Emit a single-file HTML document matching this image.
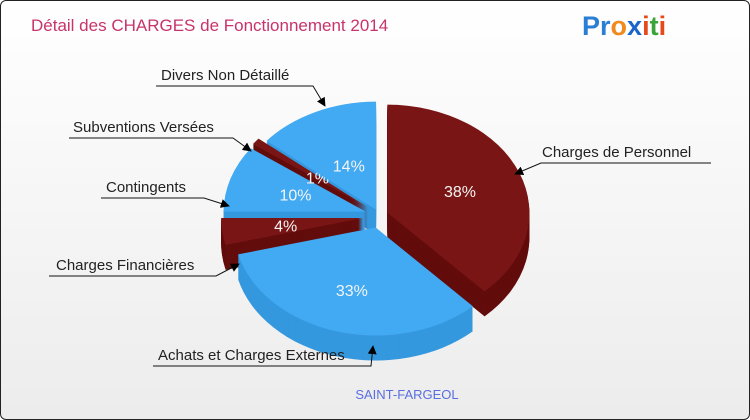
<!DOCTYPE html>
<html><head><meta charset="utf-8"><style>
html,body{margin:0;padding:0;}
body{width:750px;height:420px;overflow:hidden;font-family:"Liberation Sans",sans-serif;}
#card{position:absolute;left:0;top:0;width:748px;height:418px;border:1px solid #222;border-radius:6px;background:linear-gradient(#ffffff,#ececec);overflow:hidden;}
</style></head><body>
<div id="card">
<svg id="chart" width="748" height="418" xmlns="http://www.w3.org/2000/svg">
<defs><marker id="arr" viewBox="0 0 10 10" refX="9" refY="5" markerWidth="9" markerHeight="9" orient="auto-start-reverse"><path d="M0,0 L10,5 L0,10 z" fill="#000"/></marker></defs>
<text x="30" y="30" font-size="17" fill="#c8336b">Détail des CHARGES de Fonctionnement 2014</text>
<g font-size="27" font-weight="bold" font-family="'Liberation Sans',sans-serif">
<text x="581" y="34"><tspan fill="#2a7fd4">Pr</tspan><tspan fill="#f08a1c">o</tspan><tspan fill="#1a66c8">x</tspan><tspan fill="#e64a1a">i</tspan><tspan fill="#3aa43a">t</tspan><tspan fill="#e64a1a">i</tspan></text>
</g>
<g id="sides"></g><g id="tops"></g><g id="labels"></g>
<text x="406" y="398" font-size="13" fill="#5a6ee0" text-anchor="middle">SAINT-FARGEOL</text>
</svg></div>
<script>
const categories=["Charges de Personnel","Achats et Charges Externes","Charges Financières","Contingents","Subventions Versées","Divers Non Détaillé"];
const values=[38,33,4,10,1,14];
const pctLabels=["38%","33%","4%","10%","1%","14%"];
const NS="http://www.w3.org/2000/svg";
const cx=378,cy=215,rx=142,ry=108,depth=25;
const startA=-90*Math.PI/180;
const explode=[9,12,16,14,14,7];
const topCol=["#7a1515","#42aaf2","#7a1515","#42aaf2","#7a1515","#42aaf2"];
const sideCol=["#630c0c","#3598de","#630c0c","#3598de","#630c0c","#3598de"];
const total=values.reduce((a,b)=>a+b,0);
function pt(c,a,dy){return [c[0]+rx*Math.cos(a),c[1]+ry*Math.sin(a)+dy];}
function wedge(c,a0,a1,dy){
  const p0=pt(c,a0,dy),p1=pt(c,a1,dy),large=(a1-a0)>Math.PI?1:0;
  return `M${c[0]},${c[1]+dy} L${p0[0]},${p0[1]} A${rx},${ry} 0 ${large} 1 ${p1[0]},${p1[1]} Z`;
}
function mk(tag,attrs,parent){const e=document.createElementNS(NS,tag);for(const k in attrs)e.setAttribute(k,attrs[k]);parent.appendChild(e);return e;}
const sides=document.getElementById('sides'),tops=document.getElementById('tops');
let acc=0;const slices=[];
values.forEach((v,i)=>{
  const a0=startA+acc/total*2*Math.PI;acc+=v;
  const a1=startA+acc/total*2*Math.PI;const m=(a0+a1)/2;
  const c=[cx+explode[i]*Math.cos(m),cy+explode[i]*Math.sin(m)];
  slices.push({i,a0,a1,m,c});
});
slices.slice().sort((a,b)=>Math.sin(a.m)-Math.sin(b.m)).forEach(s=>{
  for(let d=depth;d>=1;d--){
    const p=mk('path',{d:wedge(s.c,s.a0,s.a1,d),fill:sideCol[s.i]},sides);
    
    
  }
});
slices.forEach(s=>{
  const p=mk('path',{d:wedge(s.c,s.a0,s.a1,0),fill:topCol[s.i]},tops);
  
  
  const f=[0.55,0.6,0.55,0.52,0.45,0.45][s.i];
  const lp=[s.c[0]+rx*f*Math.cos(s.m),s.c[1]+ry*f*Math.sin(s.m)+6];
  const t=mk('text',{x:lp[0],y:lp[1],'font-size':16,fill:'#f4f4f4','text-anchor':'middle'},tops);
  t.textContent=pctLabels[s.i];
  
  
});
const lab=document.getElementById('labels');
const callouts=[
 {tx:541,ty:156,pts:"710,162 540,162 514,173"},
 {tx:157,ty:359,pts:"152,365 370,365 372,345"},
 {tx:55,ty:269,pts:"48,275 215,275 238,263"},
 {tx:105,ty:191,pts:"100,197 203,197 228,205"},
 {tx:72,ty:131,pts:"68,137 232,137 250,150"},
 {tx:160,ty:79,pts:"155,85 312,85 324,105"}
];
callouts.forEach((c,i)=>{
  const l=mk('polyline',{points:c.pts,fill:'none',stroke:'#111','stroke-width':1,'marker-end':'url(#arr)'},lab);
  
  
  const t=mk('text',{x:c.tx,y:c.ty,'font-size':15,fill:'#222'},lab);
  t.textContent=categories[i];
  
  
});
</script>
</body></html>
